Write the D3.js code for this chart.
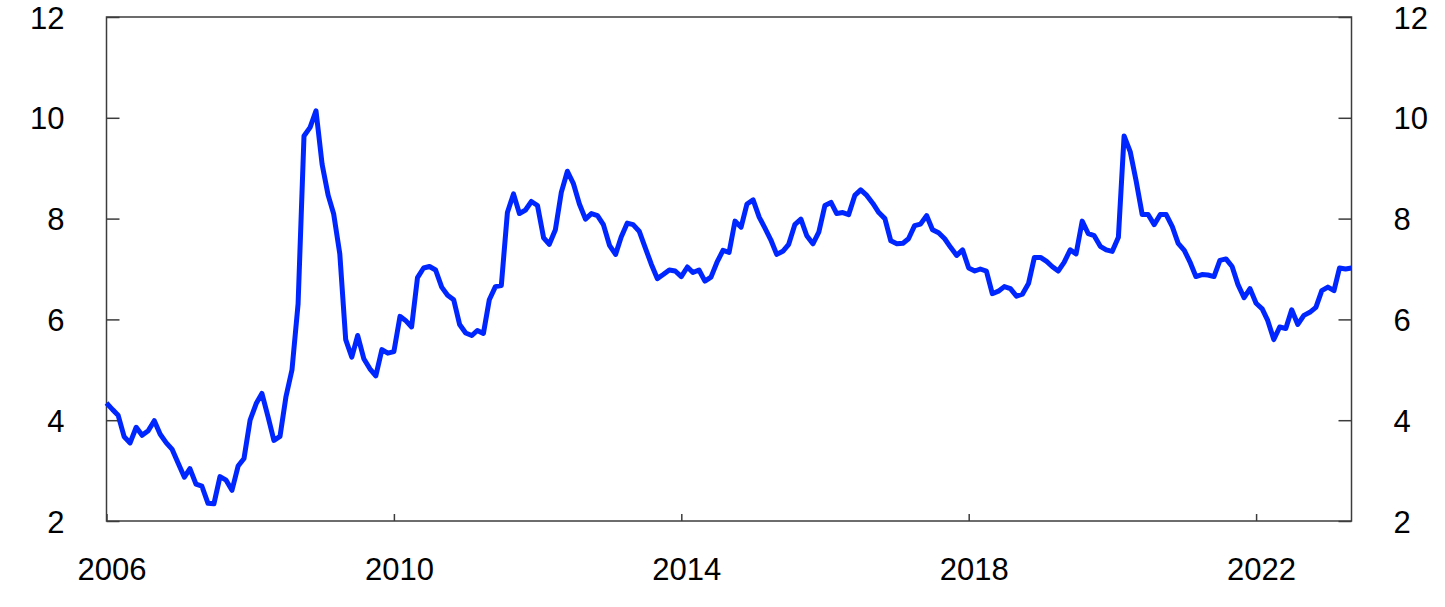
<!DOCTYPE html>
<html>
<head>
<meta charset="utf-8">
<script src="https://cdn.jsdelivr.net/npm/d3@7"></script>
<style>
  html, body { margin: 0; padding: 0; background: #ffffff; }
  svg { display: block; }
</style>
</head>
<body>
<svg id="chart" width="1445" height="607"></svg>
<script>
// ---- data ----
const startMonth = "2006-01";          // first monthly observation
const endMonth = "2023-05";            // last monthly observation
const values = [
  4.34, 4.21, 4.10, 3.67, 3.55, 3.86, 3.70, 3.79, 3.99, 3.72, 3.55, 3.42,   // 2006
  3.14, 2.87, 3.04, 2.73, 2.69, 2.35, 2.34, 2.88, 2.81, 2.61, 3.09, 3.24,   // 2007
  4.00, 4.33, 4.53, 4.07, 3.60, 3.68, 4.46, 5.00, 6.31, 9.64, 9.81, 10.14,  // 2008
  9.08, 8.46, 8.09, 7.30, 5.60, 5.25, 5.68, 5.22, 5.02, 4.88, 5.40, 5.33,   // 2009
  5.36, 6.06, 5.98, 5.85, 6.83, 7.02, 7.05, 6.98, 6.64, 6.48, 6.39, 5.90,   // 2010
  5.73, 5.68, 5.78, 5.72, 6.39, 6.65, 6.67, 8.12, 8.49, 8.10, 8.17, 8.34,   // 2011
  8.26, 7.62, 7.49, 7.78, 8.52, 8.94, 8.70, 8.29, 7.99, 8.10, 8.06, 7.88,   // 2012
  7.47, 7.29, 7.63, 7.91, 7.88, 7.75, 7.43, 7.10, 6.81, 6.89, 6.98, 6.96,   // 2013
  6.85, 7.04, 6.93, 6.98, 6.76, 6.84, 7.13, 7.37, 7.33, 7.95, 7.83, 8.29,   // 2014
  8.37, 8.03, 7.82, 7.58, 7.29, 7.35, 7.49, 7.88, 7.99, 7.66, 7.50, 7.73,   // 2015
  8.26, 8.32, 8.10, 8.12, 8.08, 8.46, 8.57, 8.46, 8.30, 8.12, 8.00, 7.56,   // 2016
  7.50, 7.51, 7.60, 7.86, 7.89, 8.06, 7.78, 7.72, 7.60, 7.43, 7.27, 7.38,   // 2017
  7.02, 6.96, 7.00, 6.96, 6.51, 6.56, 6.65, 6.61, 6.46, 6.50, 6.71, 7.23,   // 2018
  7.23, 7.15, 7.05, 6.96, 7.13, 7.38, 7.30, 7.95, 7.70, 7.66, 7.45, 7.38,   // 2019
  7.35, 7.63, 9.64, 9.33, 8.75, 8.08, 8.08, 7.88, 8.08, 8.08, 7.84, 7.51,   // 2020
  7.37, 7.12, 6.85, 6.89, 6.88, 6.85, 7.17, 7.20, 7.05, 6.69, 6.43, 6.61,   // 2021
  6.32, 6.21, 5.98, 5.60, 5.85, 5.82, 6.19, 5.90, 6.08, 6.14, 6.24, 6.57,   // 2022
  6.64, 6.57, 7.02, 7.00, 7.02                                              // 2023
];
const xTickYears = [2006, 2010, 2014, 2018, 2022];
const yTicks = [2, 4, 6, 8, 10, 12];
const yDomain = [2, 12];

// ---- layout ----
const svg = d3.select("#chart");
const plotL = 106.5, plotR = 1351.5, plotT = 17, plotB = 521;
const parse = d3.timeParse("%Y-%m");
const dates = d3.timeMonth.range(parse(startMonth), d3.timeMonth.offset(parse(endMonth), 1));
const series = dates.map((d, i) => ({ date: d, value: values[i] }));

const x = d3.scaleTime().domain([parse(startMonth), parse(endMonth)]).range([plotL, plotR]);
const y = d3.scaleLinear().domain(yDomain).range([plotB, plotT]);

const axisColor = "#3c3c3c";
const fontFamily = "'Liberation Sans', Arial, sans-serif";
const fontSize = 31;

// frame
svg.append("rect")
  .attr("x", plotL).attr("y", plotT)
  .attr("width", plotR - plotL).attr("height", plotB - plotT)
  .attr("fill", "none").attr("stroke", axisColor).attr("stroke-width", 1.5);

// left axis (ticks inward)
const yLeft = d3.axisLeft(y).tickValues(yTicks).tickSize(-13).tickPadding(42).tickFormat(d3.format("d"));
const gl = svg.append("g").attr("transform", `translate(${plotL},0)`).call(yLeft);
// right axis (ticks inward)
const yRight = d3.axisRight(y).tickValues(yTicks).tickSize(-13).tickPadding(42).tickFormat(d3.format("d"));
const gr = svg.append("g").attr("transform", `translate(${plotR},0)`).call(yRight);
// bottom axis (ticks inward)
const xAxis = d3.axisBottom(x)
  .tickValues(xTickYears.map(yr => new Date(yr, 0, 1)))
  .tickSize(-7).tickPadding(37).tickFormat(d3.timeFormat("%Y"));
const gx = svg.append("g").attr("transform", `translate(0,${plotB})`).call(xAxis);

[gl, gr, gx].forEach(g => {
  g.select(".domain").remove();
  g.selectAll(".tick line").attr("stroke", axisColor).attr("stroke-width", 1.5);
  g.selectAll(".tick text")
    .attr("fill", "#000")
    .style("font-family", fontFamily)
    .style("font-size", fontSize + "px");
});
gl.selectAll(".tick text").attr("dy", "0.36em");
gr.selectAll(".tick text").attr("dy", "0.36em");
gx.selectAll(".tick text").attr("dx", 5);

// line
const line = d3.line().x(d => x(d.date)).y(d => y(d.value));
svg.append("path")
  .datum(series)
  .attr("fill", "none")
  .attr("stroke", "#0026ff")
  .attr("stroke-width", 5)
  .attr("stroke-linejoin", "round")
  .attr("stroke-linecap", "butt")
  .attr("d", line);
</script>
</body>
</html>
